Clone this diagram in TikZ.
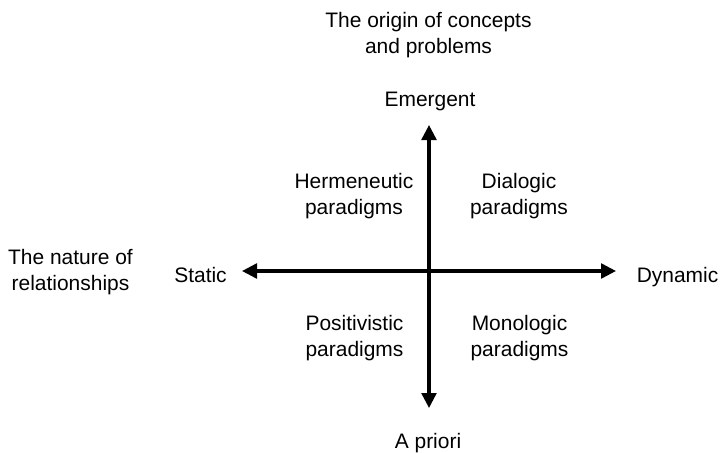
\documentclass[tikz,border=0pt]{standalone}
\usepackage{fontspec}
\setmainfont{Liberation Sans}
\usepackage{tikz}
\usetikzlibrary{arrows.meta, positioning}
\tikzset{
  basetext/.style={inner sep=0pt,align=center,font=\fontsize{14.9}{18.5}\selectfont},
  axislabel/.style={basetext,anchor=base},
  quadlabel/.style={basetext,anchor=center},
  dimlabel/.style={basetext,anchor=center},
  axisarr/.style={{Triangle[length=0.375cm,width=0.37cm]}-{Triangle[length=0.375cm,width=0.37cm]},line width=2.2pt,color=black}
}

\begin{document}
\begin{tikzpicture}[x=0.025cm,y=-0.025cm]
  \useasboundingbox (0,0) rectangle (720,452);

  % axis end points
  \coordinate (west) at (242,271);
  \coordinate (east) at (616,271);
  \coordinate (north) at (429,125);
  \coordinate (south) at (429,408);

  % dimension titles
  \node[dimlabel] (origin) at (428.5,34.7) {The origin of concepts\\and problems};
  \node[dimlabel] (nature) at (70.5,271.7) {The nature of\\relationships};

  % axis ends
  \node[axislabel] (emer) at (430,107) {Emergent};
  \node[axislabel] (apri) at (428,448) {A priori};
  \node[axislabel] (stat) at (200.5,282) {Static};
  \node[axislabel] (dyna) at (677.5,282) {Dynamic};

  % quadrants
  \node[quadlabel] (herm) at (354,195.7) {Hermeneutic\\paradigms};
  \node[quadlabel] (dial) at (519,195.7) {Dialogic\\paradigms};
  \node[quadlabel] (posi) at (354.5,337.7) {Positivistic\\paradigms};
  \node[quadlabel] (mono) at (519.5,337.7) {Monologic\\paradigms};

  \draw[axisarr] (west) -- (east);
  \draw[axisarr] (south) -- (north);
\end{tikzpicture}
\end{document}
